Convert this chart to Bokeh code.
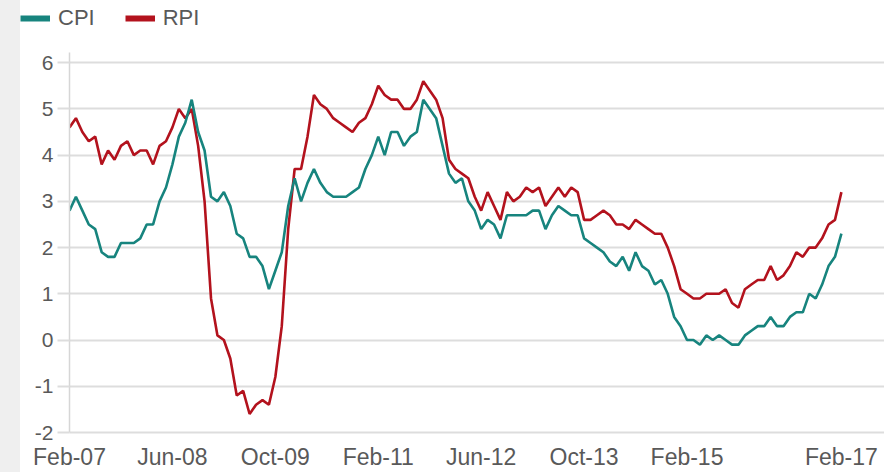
import pandas as pd
from bokeh.plotting import figure
from bokeh.layouts import row, column
from bokeh.models import ColumnDataSource, Range1d, FixedTicker, Legend, LegendItem, Spacer
from bokeh.embed import file_html
from bokeh.resources import INLINE

# ---- data (monthly, Feb-07 .. Feb-17) ----
months = pd.date_range("2007-02-01", "2017-02-01", freq="MS").strftime("%b-%y").tolist()

cpi = [2.8, 3.1, 2.8, 2.5, 2.4, 1.9, 1.8, 1.8, 2.1, 2.1, 2.1,
       2.2, 2.5, 2.5, 3.0, 3.3, 3.8, 4.4, 4.7, 5.2, 4.5, 4.1, 3.1,
       3.0, 3.2, 2.9, 2.3, 2.2, 1.8, 1.8, 1.6, 1.1, 1.5, 1.9, 2.9,
       3.5, 3.0, 3.4, 3.7, 3.4, 3.2, 3.1, 3.1, 3.1, 3.2, 3.3, 3.7,
       4.0, 4.4, 4.0, 4.5, 4.5, 4.2, 4.4, 4.5, 5.2, 5.0, 4.8, 4.2,
       3.6, 3.4, 3.5, 3.0, 2.8, 2.4, 2.6, 2.5, 2.2, 2.7, 2.7, 2.7,
       2.7, 2.8, 2.8, 2.4, 2.7, 2.9, 2.8, 2.7, 2.7, 2.2, 2.1, 2.0,
       1.9, 1.7, 1.6, 1.8, 1.5, 1.9, 1.6, 1.5, 1.2, 1.3, 1.0, 0.5,
       0.3, 0.0, 0.0, -0.1, 0.1, 0.0, 0.1, 0.0, -0.1, -0.1, 0.1, 0.2,
       0.3, 0.3, 0.5, 0.3, 0.3, 0.5, 0.6, 0.6, 1.0, 0.9, 1.2, 1.6,
       1.8, 2.3]

rpi = [4.6, 4.8, 4.5, 4.3, 4.4, 3.8, 4.1, 3.9, 4.2, 4.3, 4.0,
       4.1, 4.1, 3.8, 4.2, 4.3, 4.6, 5.0, 4.8, 5.0, 4.2, 3.0, 0.9,
       0.1, 0.0, -0.4, -1.2, -1.1, -1.6, -1.4, -1.3, -1.4, -0.8, 0.3, 2.4,
       3.7, 3.7, 4.4, 5.3, 5.1, 5.0, 4.8, 4.7, 4.6, 4.5, 4.7, 4.8,
       5.1, 5.5, 5.3, 5.2, 5.2, 5.0, 5.0, 5.2, 5.6, 5.4, 5.2, 4.8,
       3.9, 3.7, 3.6, 3.5, 3.1, 2.8, 3.2, 2.9, 2.6, 3.2, 3.0, 3.1,
       3.3, 3.2, 3.3, 2.9, 3.1, 3.3, 3.1, 3.3, 3.2, 2.6, 2.6, 2.7,
       2.8, 2.7, 2.5, 2.5, 2.4, 2.6, 2.5, 2.4, 2.3, 2.3, 2.0, 1.6,
       1.1, 1.0, 0.9, 0.9, 1.0, 1.0, 1.0, 1.1, 0.8, 0.7, 1.1, 1.2,
       1.3, 1.3, 1.6, 1.3, 1.4, 1.6, 1.9, 1.8, 2.0, 2.0, 2.2, 2.5,
       2.6, 3.2]

x_tick_labels = ["Feb-07", "Jun-08", "Oct-09", "Feb-11", "Jun-12", "Oct-13", "Feb-15", "Feb-17"]
y_ticks = [-2, -1, 0, 1, 2, 3, 4, 5, 6]
series_names = ["CPI", "RPI"]

CPI_COLOR = "#17847e"
RPI_COLOR = "#b3121d"
TEXT_COLOR = "#595959"
GRID_COLOR = "#dddddd"
STRIP_COLOR = "#efefef"
FONT = "Liberation Sans"

idx = list(range(len(months)))
source = ColumnDataSource(dict(x=idx, month=months, cpi=cpi, rpi=rpi))

# ---- main chart ----
p = figure(width=864, height=432, output_backend="svg", toolbar_location=None,
           x_range=Range1d(0, 126.7), y_range=Range1d(-2, 6.22),
           min_border_left=49, min_border_right=0, min_border_top=12, min_border_bottom=40)
p.border_fill_color = "white"
p.background_fill_color = "white"
p.outline_line_color = None

p.line("x", "rpi", source=source, line_color=RPI_COLOR, line_width=2.6)
p.line("x", "cpi", source=source, line_color=CPI_COLOR, line_width=2.6)

# x axis
tick_pos = [months.index(l) for l in x_tick_labels]
p.xaxis.ticker = FixedTicker(ticks=tick_pos)
p.xaxis.major_label_overrides = {t: l for t, l in zip(tick_pos, x_tick_labels)}
p.xaxis.axis_line_color = GRID_COLOR
p.xaxis.axis_line_width = 2
p.xaxis.major_tick_line_color = None
p.xaxis.minor_tick_line_color = None
p.xaxis.major_tick_out = 0
p.xaxis.major_tick_in = 0
p.xaxis.major_label_standoff = 11
p.xaxis.major_label_text_font = FONT
p.xaxis.major_label_text_font_size = "23px"
p.xaxis.major_label_text_color = TEXT_COLOR

# y axis
p.yaxis.ticker = FixedTicker(ticks=y_ticks)
p.yaxis.major_label_overrides = {t: str(t) for t in y_ticks}
p.yaxis.axis_line_color = "#d6d6d6"
p.yaxis.axis_line_width = 1.5
p.yaxis.major_tick_line_color = GRID_COLOR
p.yaxis.major_tick_line_width = 2
p.yaxis.major_tick_out = 12
p.yaxis.major_tick_in = 0
p.yaxis.minor_tick_line_color = None
p.yaxis.major_label_standoff = 4
p.yaxis.major_label_text_font = FONT
p.yaxis.major_label_text_font_size = "21px"
p.yaxis.major_label_text_color = TEXT_COLOR

p.xgrid.grid_line_color = None
p.ygrid.grid_line_color = GRID_COLOR
p.ygrid.grid_line_width = 2

# ---- legend strip above the chart ----
leg = figure(width=864, height=40, output_backend="svg", toolbar_location=None,
             x_range=Range1d(0, 1), y_range=Range1d(0, 1),
             x_axis_location=None, y_axis_location=None, min_border=0)
leg.xgrid.grid_line_color = None
leg.ygrid.grid_line_color = None
leg.outline_line_color = None
leg.border_fill_color = "white"
leg.background_fill_color = "white"
nan = float("nan")
sw_cpi = leg.line(x=[nan], y=[nan], line_color=CPI_COLOR, line_width=6)
sw_rpi = leg.line(x=[nan], y=[nan], line_color=RPI_COLOR, line_width=6)
legend = Legend(items=[LegendItem(label=series_names[0], renderers=[sw_cpi]),
                       LegendItem(label=series_names[1], renderers=[sw_rpi])],
                orientation="horizontal", location=(0, 9),
                padding=0, margin=0, spacing=30, glyph_width=30, glyph_height=22,
                label_standoff=8, label_height=22,
                label_text_font=FONT, label_text_font_size="22px",
                label_text_color=TEXT_COLOR,
                background_fill_alpha=0, border_line_color=None)
leg.add_layout(legend)

top = row(Spacer(width=20, height=40, styles={"background-color": STRIP_COLOR}), leg, spacing=0)
bottom = row(Spacer(width=20, height=432, styles={"background-color": STRIP_COLOR}), p, spacing=0)
layout = column(top, bottom, spacing=0)

open("out.html", "w").write(file_html(layout, INLINE))
